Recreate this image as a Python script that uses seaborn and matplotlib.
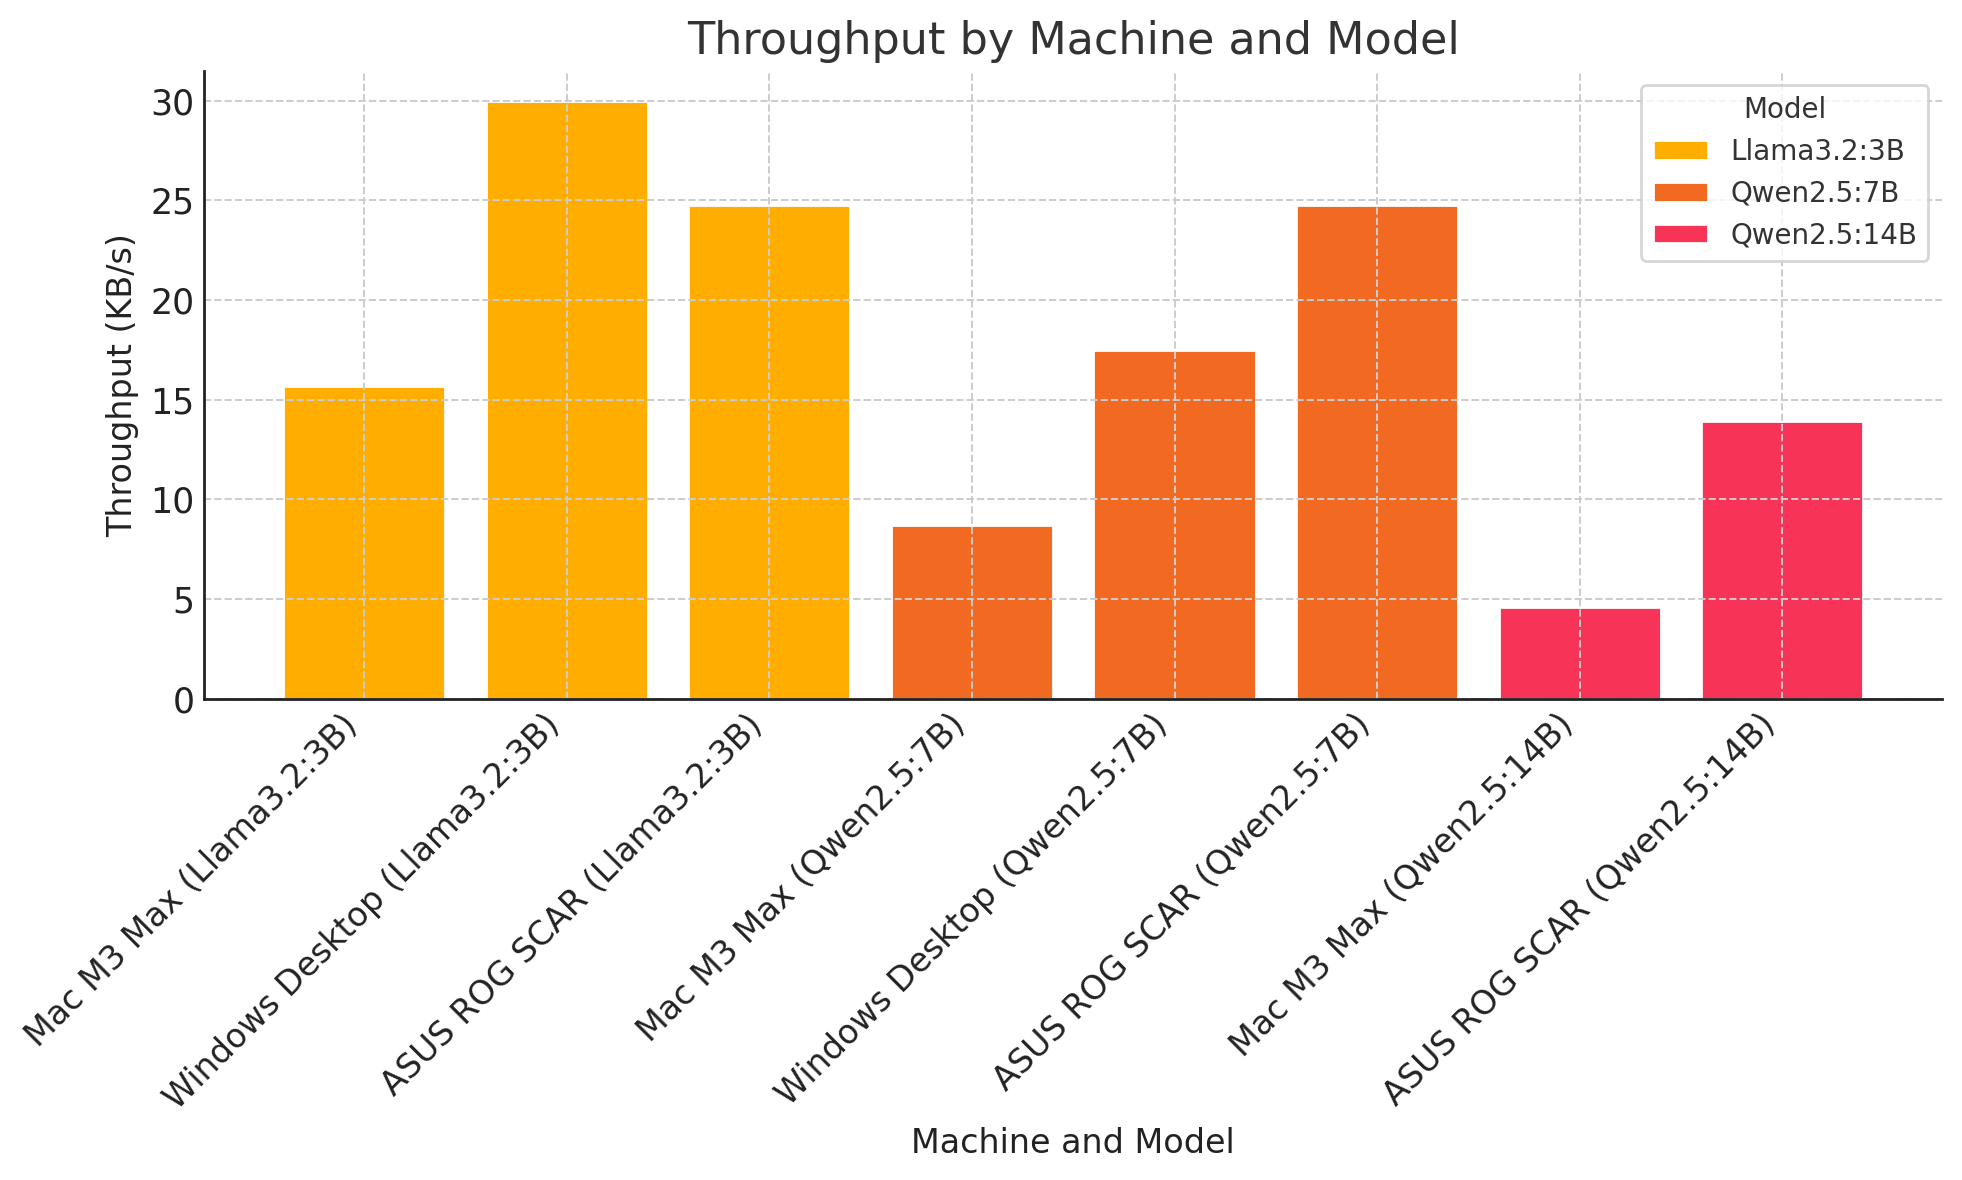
import pandas as pd
import numpy as np
import matplotlib
matplotlib.use('Agg')
import matplotlib.pyplot as plt
import seaborn as sns

# data
machines = ['Mac M3 Max', 'Windows Desktop', 'ASUS ROG SCAR',
            'Mac M3 Max', 'Windows Desktop', 'ASUS ROG SCAR',
            'Mac M3 Max', 'ASUS ROG SCAR']
models = ['Llama3.2:3B', 'Llama3.2:3B', 'Llama3.2:3B',
          'Qwen2.5:7B', 'Qwen2.5:7B', 'Qwen2.5:7B',
          'Qwen2.5:14B', 'Qwen2.5:14B']
throughput = [15.7, 30.0, 24.75, 8.7, 17.5, 24.75, 4.6, 13.95]
model_order = ['Llama3.2:3B', 'Qwen2.5:7B', 'Qwen2.5:14B']
model_colors = ['#FFAE00', '#F26922', '#F73357']

df = pd.DataFrame({'Machine': machines, 'Model': models, 'Throughput': throughput})
df['Label'] = df['Machine'] + ' (' + df['Model'] + ')'

sns.set_theme(style='white')
plt.rcParams['font.family'] = ['DejaVu Sans']

fig = plt.figure(figsize=(9.81, 5.9), dpi=200)
ax = fig.add_axes([0.104, 0.408, 0.886, 0.532])

sns.barplot(data=df, x='Label', y='Throughput', hue='Model', hue_order=model_order,
            palette=model_colors, dodge=False, width=0.8, saturation=1, ax=ax)

ax.set_xlim(-0.79, 7.79)
ax.set_ylim(0, 31.5)
ax.set_yticks([0, 5, 10, 15, 20, 25, 30])
# grid is drawn on top of the bars
ax.set_axisbelow(False)
ax.grid(True, linestyle='--', color='#cccccc', linewidth=0.7)

for s in ['top', 'right']:
    ax.spines[s].set_visible(False)
for s in ['left', 'bottom']:
    ax.spines[s].set_color('#222222')
    ax.spines[s].set_linewidth(1.0)
    ax.spines[s].set_zorder(4)

ax.tick_params(direction='in', length=3.5, width=0.8, color='#222222',
               labelsize=12.5, labelcolor='#222222')
ax.tick_params(axis='x', labelsize=12)
ax.set_xticks(range(len(df)))
ax.set_xticklabels(df['Label'], rotation=45, ha='right')

ax.set_title('Throughput by Machine and Model', fontsize=16, color='#333333', pad=6)
ax.set_xlabel('Machine and Model', fontsize=12, color='#222222')
ax.set_ylabel('Throughput (KB/s)', fontsize=12, color='#222222')

leg = ax.legend(title='Model', loc='upper right', fontsize=10, title_fontsize=10,
                frameon=True, fancybox=True, edgecolor='#cccccc', labelcolor='#333333',
                borderaxespad=0.5)
leg.get_title().set_color('#333333')

plt.savefig('out.png', dpi=200)
